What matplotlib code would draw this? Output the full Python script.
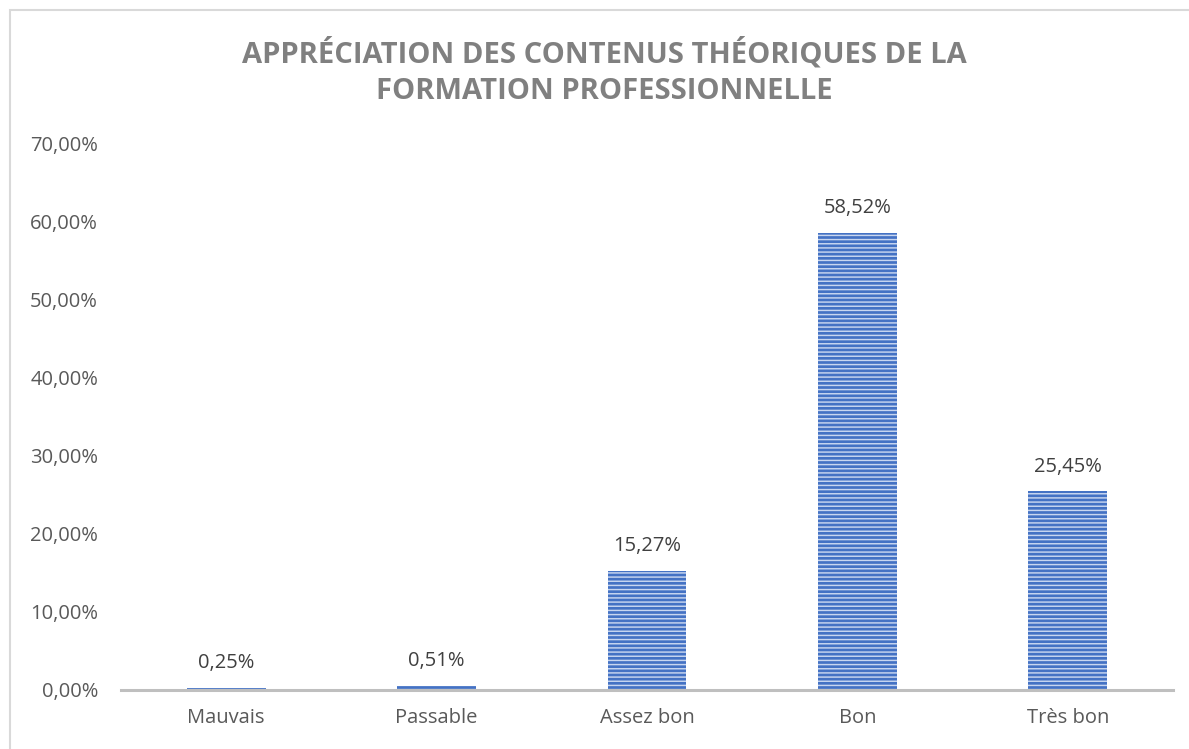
import matplotlib
matplotlib.use("Agg")
import matplotlib.pyplot as plt
from matplotlib.patches import Rectangle
import numpy as np

categories = ["Mauvais", "Passable", "Assez bon", "Bon", "Très bon"]
values = [0.25, 0.51, 15.27, 58.52, 25.45]
yticks = [0, 10, 20, 30, 40, 50, 60, 70]
title = "APPRÉCIATION DES CONTENUS THÉORIQUES DE LA\nFORMATION PROFESSIONNELLE"


def fr_pct(v):
    return f"{v:.2f}".replace(".", ",") + "%"


plt.rcParams["font.family"] = ["Open Sans", "DejaVu Sans"]
plt.rcParams["hatch.linewidth"] = 1.05

W, H = 1189, 749
fig = plt.figure(figsize=(W / 100, H / 100), dpi=100)
ax = fig.add_axes([121 / W, 1 - 690 / H, (1173 - 121) / W, (690 - 143) / H])

x = np.arange(len(categories))
ax.bar(x, values, width=0.375, color="#4472C4", edgecolor="#c8d6f0",
       linewidth=0, hatch="----", zorder=2)

for xi, v in zip(x, values):
    ax.annotate(fr_pct(v), (xi, v), xytext=(0, 10.5), textcoords="offset points",
                ha="center", va="bottom", fontsize=14.5, color="#404040")

ax.set_xlim(-0.5, len(categories) - 0.5)
ax.set_ylim(0, 70)
ax.set_yticks(yticks)
ax.set_yticklabels([fr_pct(t) for t in yticks])
ax.set_xticks(x)
ax.set_xticklabels(categories)
ax.tick_params(axis="both", length=0, labelsize=14.5, labelcolor="#595959")
ax.tick_params(axis="y", pad=16.5)
ax.tick_params(axis="x", pad=13)

for s in ("top", "right", "left"):
    ax.spines[s].set_visible(False)
ax.spines["bottom"].set_color("#bfbfbf")
ax.spines["bottom"].set_linewidth(2.2)
ax.spines["bottom"].set_zorder(3)

fig.text(604 / W, 1 - 72 / H, title, ha="center", va="center",
         fontsize=21, fontweight="bold", color="#808080", linespacing=1.3)

fig.patches.append(Rectangle((9.5 / W, -0.01), 1.02, 1 - 9.5 / H + 0.01,
                             transform=fig.transFigure, fill=False,
                             edgecolor="#d9d9d9", linewidth=1.5))

fig.savefig("out.png", dpi=100, facecolor="white")
